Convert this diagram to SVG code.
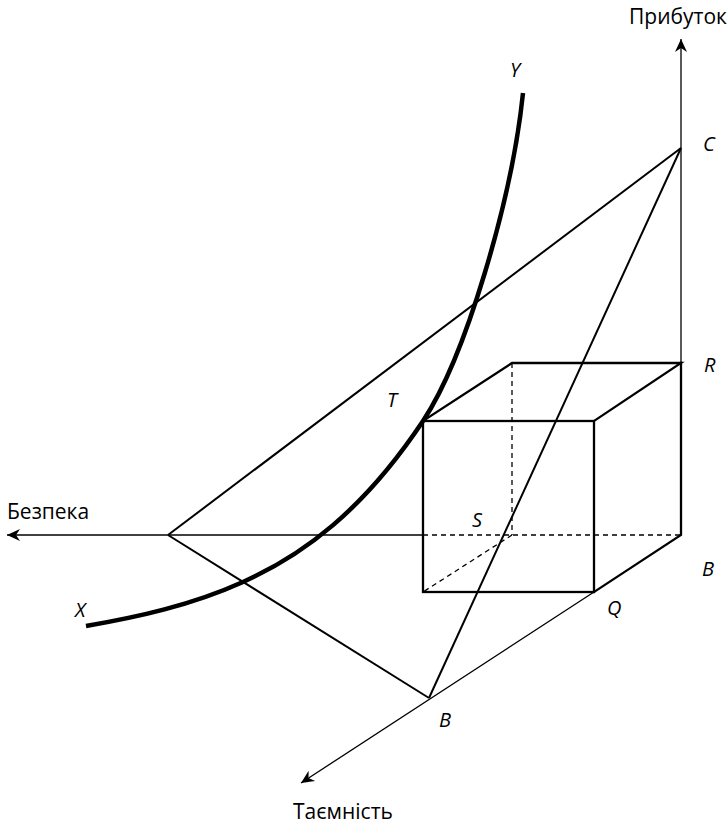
<svg xmlns="http://www.w3.org/2000/svg" width="727" height="824" viewBox="0 0 727 824">
<style>
.axis{stroke:#000;stroke-width:1.3;fill:none}
.edge{stroke:#000;stroke-width:2.3;fill:none;stroke-linecap:square}
.dash{stroke:#000;stroke-width:1.3;fill:none;stroke-dasharray:5 4}
.diag{stroke:#000;stroke-width:2;fill:none}
.curve{stroke:#000;stroke-width:4.5;fill:none}
.lbl{font-family:"Open Sans","Noto Sans",sans-serif;font-size:21px;fill:#000}
.pt{font-family:"Open Sans","Noto Sans",sans-serif;font-size:20px;font-style:italic;fill:#000}
</style>
<defs>
<marker id="arr" markerUnits="userSpaceOnUse" markerWidth="16" markerHeight="14" refX="13" refY="6" orient="auto" viewBox="0 0 16 12">
<path d="M13,6 L0,0 L4,6 L0,12 Z" fill="#000"/>
</marker>
</defs>
<g id="axes">
<line id="axis-profit" class="axis" x1="681" y1="363" x2="681" y2="39" marker-end="url(#arr)"/>
<line id="axis-security" class="axis" x1="423" y1="535" x2="7" y2="535" marker-end="url(#arr)"/>
<line id="axis-secrecy" class="axis" x1="594" y1="592" x2="301" y2="783" marker-end="url(#arr)"/>
</g>
<g id="cube">
<line class="dash" x1="512" y1="363" x2="512" y2="535"/>
<line class="dash" x1="512" y1="535" x2="423" y2="592"/>
<line class="dash" x1="423" y1="535" x2="681" y2="535"/>
<rect class="edge" x="423" y="421" width="171" height="171"/>
<polyline class="edge" points="423,421 512,363 681,363 594,421"/>
<polyline class="edge" points="681,363 681,535 594,592"/>
</g>
<g id="connectors">
<line class="diag" x1="168" y1="535" x2="681" y2="148"/>
<line class="diag" x1="168" y1="535" x2="429" y2="698"/>
<line class="diag" x1="429" y1="698" x2="681" y2="148"/>
</g>
<g id="curve-XY">
<path class="curve" d="M86,626 C138,617 191,605.4 243,582 C303,555 363,511 423,421 C465,358 512,200 523,93"/>
</g>
<g id="labels">
<text class="lbl" x="629" y="24">Прибуток</text>
<text class="lbl" x="7" y="519">Безпека</text>
<text class="lbl" x="293" y="819">Таємність</text>
<text class="pt" x="510" y="77">Y</text>
<text class="pt" x="703" y="151">C</text>
<text class="pt" x="704" y="372">R</text>
<text class="pt" x="387" y="407">T</text>
<text class="pt" x="472" y="527">S</text>
<text class="pt" x="702" y="576">B</text>
<text class="pt" x="607" y="615">Q</text>
<text class="pt" x="439" y="727">B</text>
<text class="pt" x="75" y="617">X</text>
</g>
</svg>
